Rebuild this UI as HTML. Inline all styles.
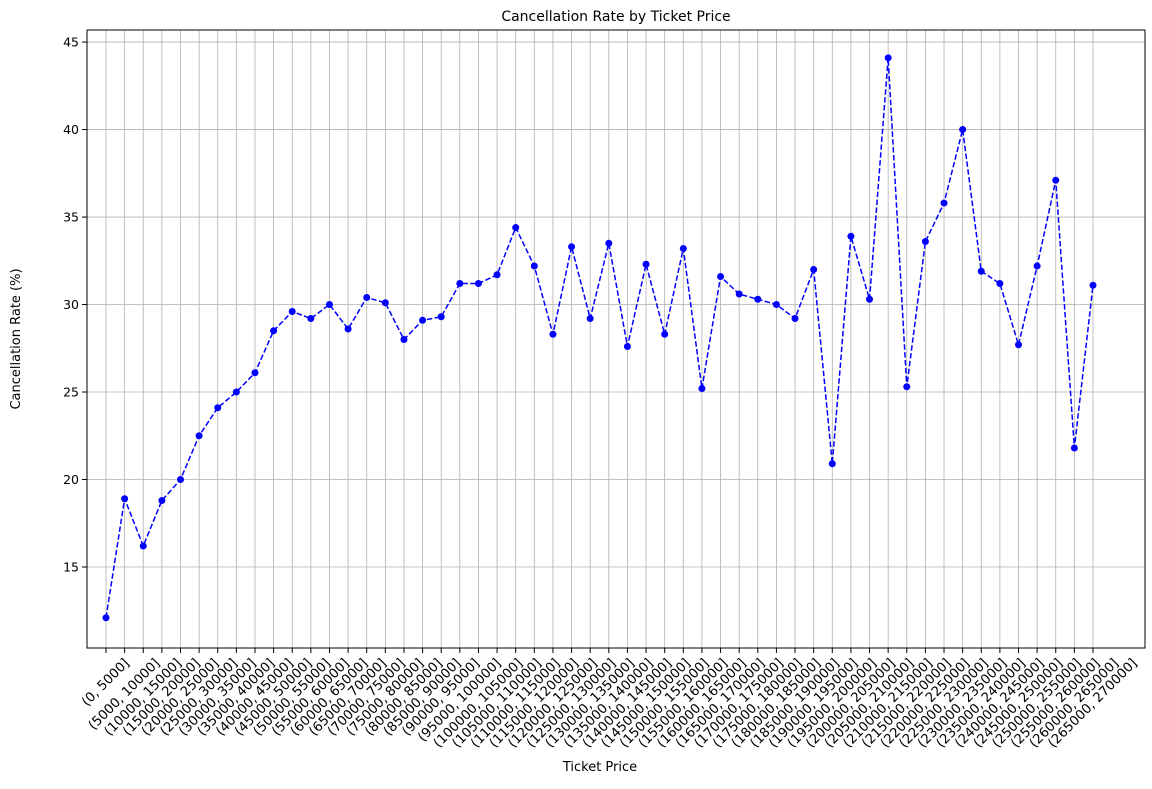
<!DOCTYPE html>
<html><head><meta charset="utf-8"><style>
body{margin:0;background:#fff;}
svg text{font-family:"DejaVu Sans","Liberation Sans",sans-serif;fill:#000;}
</style></head><body>
<svg id="chart" width="1152" height="784" xmlns="http://www.w3.org/2000/svg">
<rect width="1152" height="784" fill="#fff"/>
<g id="grid"></g>
<g id="xticks"></g>
<g id="yticks"></g>
<path id="line" fill="none" stroke="#0000ff" stroke-width="1.5" stroke-dasharray="5.5,2.4"/>
<g id="points"></g>
<rect x="87" y="30" width="1058" height="618" fill="none" stroke="#000" stroke-width="1"/>
<text x="616" y="21" text-anchor="middle" font-size="14">Cancellation Rate by Ticket Price</text>
<text x="600" y="771" text-anchor="middle" font-size="13">Ticket Price</text>
<text transform="translate(20,339) rotate(-90)" text-anchor="middle" font-size="13">Cancellation Rate (%)</text>
</svg>
<script>
const values = [12.1,18.9,16.2,18.8,20.0,22.5,24.1,25.0,26.1,28.5,29.6,29.2,30.0,28.6,30.4,30.1,28.0,29.1,29.3,31.2,31.2,31.7,34.4,32.2,28.3,33.3,29.2,33.5,27.6,32.3,28.3,33.2,25.2,31.6,30.6,30.3,30.0,29.2,32.0,20.9,33.9,30.3,44.1,25.3,33.6,35.8,40.0,31.9,31.2,27.7,32.2,37.1,21.8,31.1];
const categories = [];
for (let i = 0; i < 54; i++) categories.push(i === 0 ? "(0, 5000]" : "(" + (i*5000) + ", " + ((i+1)*5000) + "]");
const yTicks = [15,20,25,30,35,40,45];
const NS = "http://www.w3.org/2000/svg";
const L=87,R=1145,T=30,B=648, yMin=10.37, yMax=45.69;
const x = i => 106 + i*(1093-106)/(categories.length-1);
const y = v => B - (v-yMin)/(yMax-yMin)*(B-T);
function mk(tag, attrs, parent){const e=document.createElementNS(NS,tag);for(const k in attrs)e.setAttribute(k,attrs[k]);parent.appendChild(e);return e;}
const grid=document.getElementById('grid'), xt=document.getElementById('xticks'), yt=document.getElementById('yticks'), pts=document.getElementById('points');
const FS=13.2;
categories.forEach((c,i)=>{
  const gx=x(i);
  const gl=mk('line',{x1:gx,x2:gx,y1:T,y2:B,stroke:'#b0b0b0','stroke-width':0.8},grid);
  
  
  mk('line',{x1:gx,x2:gx,y1:B,y2:B+5,stroke:'#000'},xt);
  const t=mk('text',{'text-anchor':'middle','dominant-baseline':'central','font-size':FS},xt);
  t.textContent=c;
  
  
  const len=t.getComputedTextLength();
  const h=(len+FS*1.15)*0.7071;
  t.setAttribute('transform',`translate(${gx},${656+h/2}) rotate(-45)`);
});
yTicks.forEach(v=>{
  const gy=y(v);
  const gl=mk('line',{x1:L,x2:R,y1:gy,y2:gy,stroke:'#b0b0b0','stroke-width':0.8},grid);
  
  
  mk('line',{x1:L-5,x2:L,y1:gy,y2:gy,stroke:'#000'},yt);
  const t=mk('text',{x:L-8,y:gy+4.5,'text-anchor':'end','font-size':'12.5'},yt);
  t.textContent=v;
  
  
});
document.getElementById('line').setAttribute('d', values.map((v,i)=>(i?'L':'M')+x(i)+','+y(v)).join(''));
values.forEach((v,i)=>{
  const c=mk('circle',{cx:x(i),cy:y(v),r:3.5,fill:'#0000ff'},pts);
  
  
});
</script>
</body></html>
